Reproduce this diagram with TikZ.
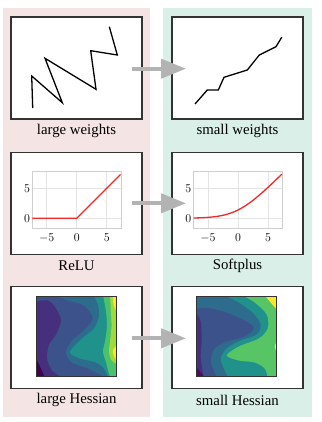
\documentclass[tikz,border=0pt]{standalone}
\usepackage{fontspec}
\setmainfont{Liberation Serif}
\usetikzlibrary{arrows.meta}
\definecolor{pinkbg}{HTML}{F5E4E4}
\definecolor{greenbg}{HTML}{D9EFE7}
\definecolor{boxline}{HTML}{333333}
\definecolor{arrowgray}{HTML}{B3B3B3}
\definecolor{gridgray}{HTML}{E4E4E4}
\definecolor{axgray}{HTML}{CFCFCF}
\definecolor{plotred}{HTML}{F02828}
\definecolor{vA}{HTML}{440154}
\definecolor{vB}{HTML}{46307E}
\definecolor{vC}{HTML}{3B528B}
\definecolor{vD}{HTML}{2E6C8E}
\definecolor{vE}{HTML}{21918C}
\definecolor{vF}{HTML}{4AC16D}
\definecolor{vG}{HTML}{A0DA39}
\definecolor{vH}{HTML}{FDE725}
\tikzset{
  panelbox/.style={draw=boxline, line width=1.2pt, fill=white, inner sep=0pt, minimum width=131pt, minimum height=102pt},
  lab/.style={font=\fontsize{14.8}{17}\selectfont, inner sep=0pt},
  tick/.style={font=\fontsize{12.5}{14}\selectfont, inner sep=0pt},
  bigarrow/.style={draw=arrowgray, line width=4pt, -{Triangle[length=25pt,width=19pt]}},
  wline/.style={black, line width=1.3pt, line join=miter},
  redline/.style={plotred, line width=1.3pt},
  gridline/.style={gridgray, line width=0.6pt},
}
\begin{document}
\begin{tikzpicture}[x=1pt,y=-1pt]
\useasboundingbox[fill=white] (0,0) rectangle (321,422);
% panels
\fill[pinkbg] (2.5,8.3) rectangle (150,416.7);
\fill[greenbg] (163.3,8.3) rectangle (311.7,416.7);
% boxes
\node[panelbox] (b1) at (76.5,68) {};
\node[panelbox] (b2) at (237.5,68) {};
\node[panelbox] (b3) at (76.5,203.5) {};
\node[panelbox] (b4) at (237.5,203.5) {};
\node[panelbox] (b5) at (76.5,337.5) {};
\node[panelbox] (b6) at (237.5,337.5) {};
% labels
\node[lab] (l1) at (76.5,131) {large weights};
\node[lab] (l2) at (237.5,131) {small weights};
\node[lab] (l3) at (76.5,266) {ReLU};
\node[lab] (l4) at (237.5,266) {Softplus};
\node[lab] (l5) at (76.5,400) {large Hessian};
\node[lab] (l6) at (237.5,400) {small Hessian};
% weights
\draw[wline] (32.7,108) -- (31.7,76) -- (62.3,102.7) -- (45,58.3) -- (96,89.3) -- (90.7,50.7) -- (117.3,55) -- (109.3,26.7);
\draw[wline] (195,104) -- (207.3,90) -- (218.3,90) -- (224,77.3) -- (247.3,70) -- (259.3,55) -- (276,46.7) -- (281.7,37.3);
% ReLU plot
\begin{scope}[shift={(76.7,218.3)}, x=6pt, y=6pt]
  \foreach \t in {-5,0,5} \draw[gridline] (\t,-1.7) -- (\t,7.9);
  \foreach \t in {0,5} \draw[gridline] (-7.4,\t) -- (7.4,\t);
  \draw[axgray, line width=0.6pt] (-7.4,-1.7) rectangle (7.4,7.9);
  \draw[redline] (-7.4,0) -- (0,0) -- (7.3,7.3);
  \foreach \t in {-5,0,5} \node[tick] at (\t,-3.25) {$\t$};
  \foreach \t in {0,5} \node[tick, anchor=east] at (-7.75,\t) {$\t$};
\end{scope}
% Softplus plot
\begin{scope}[shift={(238,218.3)}, x=6pt, y=6pt]
  \foreach \t in {-5,0,5} \draw[gridline] (\t,-1.7) -- (\t,7.9);
  \foreach \t in {0,5} \draw[gridline] (-7.4,\t) -- (7.4,\t);
  \draw[axgray, line width=0.6pt] (-7.4,-1.7) rectangle (7.4,7.9);
  \draw[redline] plot[domain=-7.4:7.3, samples=60, smooth] (\x,{2*ln(1+exp(0.5*\x))});
  \foreach \t in {-5,0,5} \node[tick] at (\t,-3.25) {$\t$};
  \foreach \t in {0,5} \node[tick, anchor=east] at (-7.75,\t) {$\t$};
\end{scope}
% large Hessian
\begin{scope}[shift={(36,296.5)}]
  \clip (0,0) rectangle (80,80);
  \fill[vC] (0,0) rectangle (80,80);
  \fill[vB] plot[smooth] coordinates {(-1,5) (12,4) (20,12) (25,24) (20,38) (13,48) (11,62) (16,74) (26,81)} -- (-1,81) -- cycle;
  \fill[vA] plot[smooth] coordinates {(-1,60) (4,70) (9,81)} -- (-1,81) -- cycle;
  \fill[vD] plot[smooth] coordinates {(19,-1) (32,4) (48,9) (57,22) (48,34) (36,44) (30,56) (36,66) (52,72) (64,78) (68,81)} -- (81,81) -- (81,-1) -- cycle;
  \fill[vE] plot[smooth] coordinates {(58,-1) (62,8) (63,20) (58,32) (46,42) (36,52) (34,57) (44,62) (60,66) (68,72) (72,81)} -- (81,81) -- (81,-1) -- cycle;
  \fill[vF] plot[smooth] coordinates {(67,-1) (70,15) (71,30) (69,45) (67,55) (70,66) (74,81)} -- (81,81) -- (81,-1) -- cycle;
  \fill[vG] plot[smooth] coordinates {(74,-1) (75,15) (75.5,30) (74,45) (73,55) (75,63) (81,68)} -- (81,-1) -- cycle;
  \fill[vH] plot[smooth] coordinates {(77,-1) (77.5,8) (81,16)} -- (81,-1) -- cycle;
  \fill[vH] plot[smooth] coordinates {(81,48) (77,54) (78,60) (81,64)} -- cycle;
\end{scope}
\draw[boxline, line width=0.8pt] (36,296.5) rectangle (116,376.5);
% small Hessian
\begin{scope}[shift={(196.7,296.5)}]
  \clip (0,0) rectangle (80,80);
  \fill[vD] (0,0) rectangle (80,80);
  \fill[vC] plot[smooth] coordinates {(-1,12) (15,12) (32,17) (48,24) (57,31) (48,40) (30,45) (18,52) (14,64) (17,74) (20,81)} -- (-1,81) -- cycle;
  \fill[vB] plot[smooth] coordinates {(-1,16) (4,25) (5,45) (4,60) (6,75) (7,81)} -- (-1,81) -- cycle;
  \fill[vA!70!vB] plot[smooth] coordinates {(-1,70) (4,76) (8,81)} -- (-1,81) -- cycle;
  \fill[vE] plot[smooth] coordinates {(28,-1) (42,6) (56,16) (64,28) (60,38) (44,44) (30,52) (24,62) (28,74) (32,81)} -- (81,81) -- (81,-1) -- cycle;
  \fill[vF!85!vG] plot[smooth] coordinates {(46,-1) (58,6) (70,18) (71,32) (62,42) (42,50) (30,59) (42,64) (58,66) (68,72) (71,81)} -- (81,81) -- (81,-1) -- cycle;
  \fill[vH] plot[smooth] coordinates {(68,-1) (74,6) (81,14)} -- (81,-1) -- cycle;
  \fill[vH] plot[smooth] coordinates {(81,44) (78,50) (81,58)} -- cycle;
\end{scope}
\draw[boxline, line width=0.8pt] (196.7,296.5) rectangle (276.7,376.5);
% arrows
\coordinate (a1s) at (131.7,68.7);
\coordinate (a1e) at (186,68.7);
\coordinate (a2s) at (131.7,203.3);
\coordinate (a2e) at (186,203.3);
\coordinate (a3s) at (131.7,338.3);
\coordinate (a3e) at (186,338.3);
\draw[bigarrow] (a1s) -- (a1e);
\draw[bigarrow] (a2s) -- (a2e);
\draw[bigarrow] (a3s) -- (a3e);
\end{tikzpicture}
\end{document}
